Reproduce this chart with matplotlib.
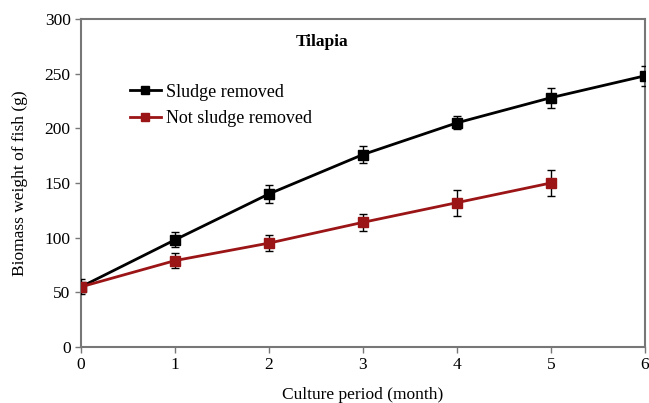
import matplotlib
matplotlib.use("Agg")
import matplotlib.pyplot as plt
from matplotlib.lines import Line2D

months = [0, 1, 2, 3, 4, 5, 6]
sludge_removed = [55, 98, 140, 176, 205, 228, 248]
sludge_removed_err = [7, 7, 8, 8, 6, 9, 9]
months_not = [0, 1, 2, 3, 4, 5]
not_removed = [55, 79, 95, 114, 132, 150]
not_removed_err = [3, 7, 7, 8, 12, 12]

plt.rcParams['font.family'] = ['Liberation Serif', 'DejaVu Serif']

black = 'black'
red = '#9b1416'

fig = plt.figure(figsize=(6.49, 4.03), dpi=100)
ax = fig.add_axes([0.1248, 0.139, 0.869, 0.814])

ax.errorbar(months, sludge_removed, yerr=sludge_removed_err, color=black, marker='s',
            markersize=6.5, linewidth=2, ecolor='black', elinewidth=1, capsize=3, zorder=3)
ax.errorbar(months_not, not_removed, yerr=not_removed_err, color=red, marker='s',
            markersize=6.5, linewidth=2, ecolor='black', elinewidth=1, capsize=3, zorder=3)

ax.set_xlim(0, 6)
ax.set_ylim(0, 300)
ax.set_xticks(range(0, 7))
ax.set_yticks(range(0, 301, 50))
ax.tick_params(direction='out', length=4, color='#777777', labelsize=12.5, width=1)
for s in ax.spines.values():
    s.set_color('#777777')
    s.set_linewidth(1.5)

ax.set_xlabel('Culture period (month)', fontsize=12.5, labelpad=10)
ax.set_ylabel('Biomass weight of fish (g)', fontsize=12.5, labelpad=12)
ax.text(0.427, 0.93, 'Tilapia', transform=ax.transAxes, fontsize=12.5, fontweight='bold',
        ha='center', va='center')

handles = [Line2D([], [], color=black, marker='s', markersize=6, linewidth=2),
           Line2D([], [], color=red, marker='s', markersize=6, linewidth=2)]
labels = ['Sludge removed', 'Not sludge removed']
ax.legend(handles, labels, loc='upper left', bbox_to_anchor=(0.087, 0.803), frameon=False,
          fontsize=13, handlelength=1.7, handletextpad=0.3, labelspacing=0.55,
          borderaxespad=0, borderpad=0)

fig.savefig('out.png', dpi=100)
